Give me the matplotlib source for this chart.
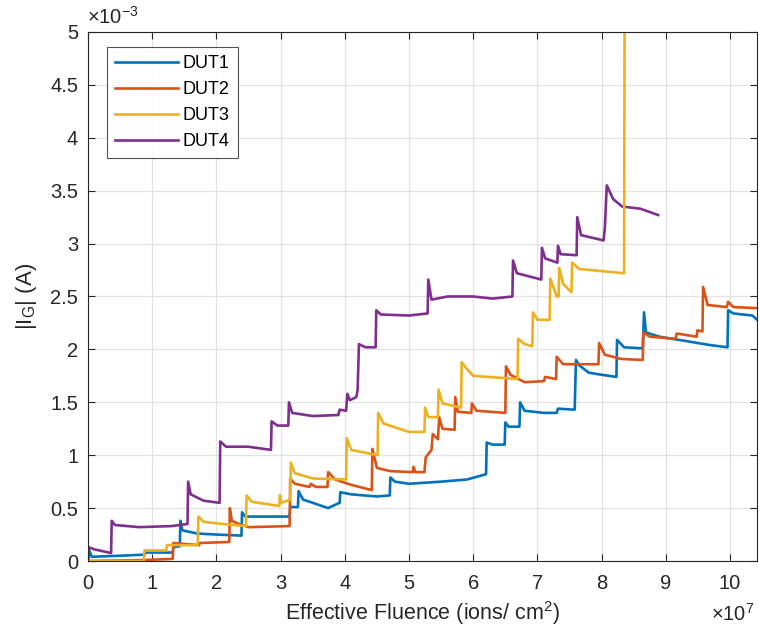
import matplotlib
matplotlib.use("Agg")
import matplotlib.pyplot as plt
from matplotlib.ticker import FuncFormatter, MultipleLocator

plt.rcParams['font.family'] = ['Liberation Sans', 'DejaVu Sans']
plt.rcParams['mathtext.fontset'] = 'custom'
plt.rcParams['mathtext.rm'] = 'Liberation Sans'
plt.rcParams['mathtext.it'] = 'Liberation Sans:italic'

# Gate current vs. effective fluence, (fluence [1e7 ions/cm^2], |I_G| [1e-3 A]) vertices
dut1 = [(0.00, 0.00), (0.02, 0.10), (0.06, 0.04), (0.50, 0.05), (0.88, 0.06), (0.90, 0.08),
        (1.32, 0.08), (1.33, 0.13), (1.43, 0.14), (1.44, 0.38), (1.47, 0.29), (1.70, 0.26),
        (2.00, 0.25), (2.39, 0.24), (2.40, 0.46), (2.45, 0.42), (2.80, 0.42), (3.14, 0.42),
        (3.15, 0.51), (3.27, 0.51), (3.28, 0.66), (3.35, 0.58), (3.50, 0.55), (3.74, 0.50),
        (3.88, 0.54), (3.92, 0.55), (3.93, 0.65), (4.10, 0.63), (4.50, 0.61), (4.70, 0.62),
        (4.71, 0.79), (4.78, 0.75), (5.00, 0.73), (5.50, 0.75), (5.90, 0.77), (6.20, 0.82),
        (6.21, 1.12), (6.30, 1.10), (6.49, 1.10), (6.50, 1.31), (6.55, 1.27), (6.72, 1.27),
        (6.73, 1.50), (6.80, 1.42), (7.10, 1.40), (7.30, 1.40), (7.32, 1.44), (7.58, 1.43),
        (7.60, 1.90), (7.65, 1.85), (7.80, 1.78), (8.00, 1.76), (8.23, 1.74), (8.24, 2.09),
        (8.35, 2.02), (8.64, 2.01), (8.66, 2.35), (8.69, 2.16), (8.90, 2.12), (9.30, 2.08),
        (9.70, 2.04), (9.96, 2.02), (9.97, 2.37), (10.05, 2.34), (10.35, 2.32), (10.42, 2.28)]

dut2 = [(0.00, 0.00), (0.90, 0.01), (1.32, 0.02), (1.33, 0.17), (1.73, 0.15), (1.74, 0.17),
        (2.20, 0.18), (2.21, 0.50), (2.24, 0.38), (2.35, 0.35), (2.50, 0.32), (3.14, 0.33),
        (3.15, 0.78), (3.22, 0.73), (3.45, 0.70), (3.47, 0.73), (3.55, 0.70), (3.73, 0.70),
        (3.74, 0.84), (3.85, 0.77), (4.10, 0.72), (4.42, 0.67), (4.43, 1.06), (4.50, 0.88),
        (4.70, 0.85), (5.06, 0.84), (5.07, 0.89), (5.10, 0.84), (5.24, 0.84), (5.26, 0.98),
        (5.35, 1.05), (5.37, 1.20), (5.45, 1.15), (5.47, 1.36), (5.52, 1.25), (5.71, 1.24),
        (5.72, 1.55), (5.76, 1.41), (5.97, 1.40), (5.98, 1.49), (6.05, 1.42), (6.50, 1.40),
        (6.51, 1.84), (6.58, 1.76), (6.80, 1.69), (7.10, 1.70), (7.12, 1.74), (7.29, 1.72),
        (7.30, 1.93), (7.40, 1.86), (7.95, 1.86), (7.96, 2.06), (8.05, 1.95), (8.30, 1.91),
        (8.64, 1.90), (8.65, 2.16), (8.75, 2.12), (9.15, 2.10), (9.17, 2.15), (9.48, 2.12),
        (9.49, 2.18), (9.57, 2.17), (9.58, 2.59), (9.65, 2.42), (9.95, 2.40), (9.97, 2.45),
        (10.05, 2.40), (10.42, 2.39)]

dut3 = [(0.00, 0.00), (0.87, 0.00), (0.88, 0.10), (1.22, 0.10), (1.23, 0.15), (1.71, 0.15),
        (1.72, 0.42), (1.80, 0.37), (2.10, 0.35), (2.46, 0.33), (2.47, 0.62), (2.55, 0.56),
        (2.98, 0.52), (2.99, 0.62), (3.01, 0.55), (3.15, 0.58), (3.16, 0.93), (3.22, 0.83),
        (3.50, 0.78), (4.02, 0.77), (4.03, 1.16), (4.10, 1.05), (4.51, 1.00), (4.52, 1.40),
        (4.60, 1.30), (5.00, 1.22), (5.24, 1.22), (5.25, 1.45), (5.30, 1.36), (5.45, 1.36),
        (5.46, 1.62), (5.52, 1.49), (5.81, 1.45), (5.82, 1.88), (5.88, 1.83), (6.00, 1.75),
        (6.69, 1.72), (6.70, 2.10), (6.80, 2.05), (6.92, 2.03), (6.93, 2.35), (7.00, 2.28),
        (7.19, 2.28), (7.20, 2.67), (7.30, 2.50), (7.33, 2.50), (7.34, 2.77), (7.40, 2.62),
        (7.53, 2.54), (7.54, 2.82), (7.65, 2.76), (8.00, 2.74), (8.35, 2.72), (8.36, 6.00)]

dut4 = [(0.00, 0.00), (0.01, 0.13), (0.10, 0.11), (0.36, 0.075), (0.37, 0.38), (0.42, 0.34),
        (0.80, 0.32), (1.30, 0.33), (1.55, 0.35), (1.56, 0.75), (1.60, 0.63), (1.80, 0.57),
        (2.05, 0.55), (2.06, 1.13), (2.15, 1.08), (2.50, 1.08), (2.85, 1.05), (2.86, 1.32),
        (2.95, 1.28), (3.12, 1.28), (3.13, 1.50), (3.18, 1.40), (3.50, 1.37), (3.90, 1.38),
        (3.92, 1.43), (4.02, 1.42), (4.04, 1.58), (4.08, 1.52), (4.18, 1.55), (4.20, 1.62),
        (4.22, 2.05), (4.32, 2.02), (4.48, 2.02), (4.49, 2.37), (4.56, 2.33), (5.00, 2.32),
        (5.29, 2.34), (5.30, 2.66), (5.35, 2.47), (5.60, 2.50), (6.00, 2.50), (6.30, 2.48),
        (6.61, 2.50), (6.62, 2.84), (6.68, 2.72), (7.06, 2.66), (7.07, 2.96), (7.12, 2.86),
        (7.31, 2.82), (7.32, 2.98), (7.36, 2.90), (7.61, 2.89), (7.62, 3.25), (7.68, 3.08),
        (8.03, 3.03), (8.05, 3.15), (8.08, 3.55), (8.18, 3.42), (8.32, 3.35), (8.60, 3.33),
        (8.88, 3.27)]

labels = ['DUT1', 'DUT2', 'DUT3', 'DUT4']
series = [dut1, dut2, dut3, dut4]
colors = ['#0072BD', '#D95319', '#EDB120', '#7E2F8E']
zorders = [2.0, 2.1, 2.3, 2.2]

x_scale = 1e7
y_scale = 1e-3

ink = '#262626'
fig = plt.figure(figsize=(7.59, 6.37), dpi=100)
ax = fig.add_axes([0.1159, 0.1193, 0.8815, 0.8305])

handles = []
for pts, lab, col, z in zip(series, labels, colors, zorders):
    xs = [p[0] * x_scale for p in pts]
    ys = [p[1] * y_scale for p in pts]
    h, = ax.plot(xs, ys, color=col, lw=1.9, label=lab, zorder=z)
    handles.append(h)

ax.set_xlim(0, 10.42e7)
ax.set_ylim(0, 5e-3)
ax.xaxis.set_major_locator(MultipleLocator(1e7))
ax.yaxis.set_major_locator(MultipleLocator(0.5e-3))
ax.xaxis.set_major_formatter(FuncFormatter(lambda v, p: f'{v / x_scale:g}'))
ax.yaxis.set_major_formatter(FuncFormatter(lambda v, p: f'{v / y_scale:g}'))

ax.grid(True, color='#e3e3e3', lw=0.9)
ax.set_axisbelow(True)
ax.tick_params(direction='in', length=5, width=0.8, colors=ink, labelsize=14.5,
               top=True, right=True)
ax.tick_params(axis='x', pad=9)
ax.tick_params(axis='y', pad=7)
for s in ax.spines.values():
    s.set_color(ink)
    s.set_linewidth(0.8)

ax.set_xlabel(r'Effective Fluence (ions/ cm$^\mathregular{2}$)', fontsize=15.5, color=ink,
              labelpad=5)
ax.set_ylabel(r'|I$_\mathregular{G}$| (A)', fontsize=16, color=ink, labelpad=8)

fig.text(87 / 759, 1 - 17 / 637, r'$\times$10$^\mathregular{-3}$', fontsize=14.5, color=ink,
         ha='left', va='center')
fig.text(711 / 759, 1 - 614 / 637, r'$\times$10$^\mathregular{7}$', fontsize=14.5, color=ink,
         ha='left', va='center')

leg = ax.legend(handles=handles, loc='upper left', bbox_to_anchor=(0.028, 0.972),
                fontsize=13, frameon=True, fancybox=False, edgecolor=ink,
                handlelength=3.5, handletextpad=0.25, labelspacing=0.5,
                borderpad=0.45, borderaxespad=0)
leg.get_frame().set_linewidth(0.8)

fig.savefig('out.png', dpi=100)
